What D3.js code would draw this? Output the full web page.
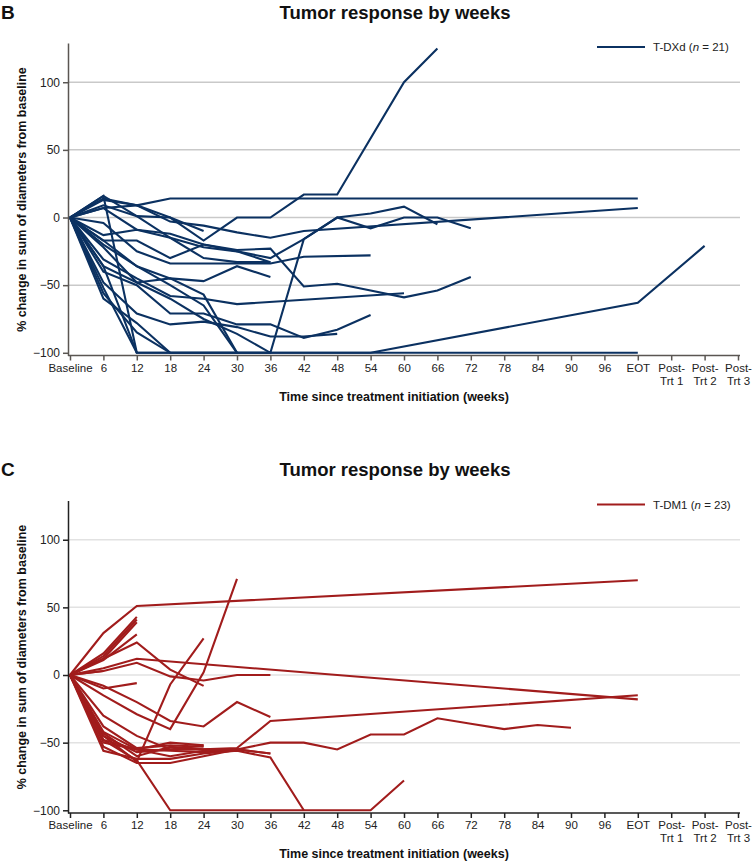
<!DOCTYPE html>
<html><head><meta charset="utf-8">
<script src="https://cdn.jsdelivr.net/npm/d3@7"></script>
<style>body{margin:0;background:#fff} svg{display:block}</style>
</head><body>
<svg id="chart" width="754" height="863"></svg>
<script>
const _ = null;
const categories = ["Baseline","6","12","18","24","30","36","42","48","54","60","66","72","78","84","90","96","EOT","Post-Trt 1","Post-Trt 2","Post-Trt 3"];
const yTicks = [-100, -50, 0, 50, 100];
const gridTicks = [-50, 0, 50, 100];

// T-DXd (n = 21): % change per visit, null = no assessment
const tdxdSeries = [
  [0, 9, 1, 0, -17, 0, 0, 17, 17, _, 100, 125],
  [0, 7, 9, 14, 14, 14, 14, 14, 14, 14, 14, 14, 14, 14, 14, 14, 14, 14],
  [0, 14, 9, -3, -6, -11, -15, -10, _, _, _, _, _, _, _, _, _, 7],
  [0, 16, 1, -15, -22, -25, -30, -16, 0, 3, 8, -5],
  [0, -36, -48, -60, -75, -86, -100, -16, 0, -8, 0, 0, -8],
  [0, -4, -25, -34, -34, -34, -34, -29, _, -28],
  [0, -13, -9, -12, -20, -24, -23, -51, -49, -54, -59, -54, -44],
  [0, -31, -45, -58, -60, -64, _, _, _, _, -56],
  [0, -40, -50, -71, -71, -79, -79, -89, -83, -72],
  [0, -48, -71, -79, -77, -81, -88, -88, -86],
  [0, 16, -100, -100, -100, -100, -100, -100, -100, -100, -100, -100, -100, -100, -100, -100, -100, -100],
  [0, -56, -85, -100, -100, -100, -100, -100, -100, -100, _, _, _, _, _, _, _, -63, _, -21],
  [0, -60, -78, -100],
  [0, -20, -36, -50, -65, -100],
  [0, -17, -36, -45, -47, -36, -44],
  [0, -52, -100],
  [0, -22, -48, -45, -57, -100],
  [0, 13, 9, 0, -10],
  [0, -17, -17, -30, -20, -25, -33],
  [0, 7, -9, -15, -30, -33, -33],
  [0, -36, -100, -100, -100, -100, -100]
];

// T-DM1 (n = 23)
const tdm1Series = [
  [0, 31, 51, _, _, _, _, _, _, _, _, _, _, _, _, _, _, 70],
  [0, -15, -29, -40, 2, 71],
  [0, -45, -64, -7, 27],
  [0, 5, 12, _, _, _, _, _, _, _, _, _, _, _, _, _, _, -18],
  [0, -45, -57, -55, -55, -54, -34, _, _, _, _, _, _, _, _, _, _, -15],
  [0, -53, -65, -65, -60, -55, -50, -50, -55, -44, -44, -32, -36, -40, -37, -39],
  [0, -48, -63, -100, -100, -100, -100, -100, -100, -100, -78],
  [0, -50, -55, -56, -57, -56, -61, -100],
  [0, 3, 9, -1, -4, 0, 0],
  [0, 12, 24, 4, -8],
  [0, 16, 43],
  [0, 14, 41],
  [0, 12, 39],
  [0, 11, 30],
  [0, 3],
  [0, -10, -6],
  [0, -8, -20, -34, -38, -20, -31],
  [0, -48, -55, -50, -52],
  [0, -56, -62, -62, -58, -56],
  [0, -42, -55, -60, -56, -55, -58],
  [0, -38, -54, -52, -53],
  [0, -43, -60, -53, -55, -55, -58],
  [0, -30, -45, -55, -52]
];

const FONT = "'Liberation Sans', Arial, sans-serif";
const svg = d3.select("#chart").style("font-family", FONT);

const x = d3.scalePoint().domain(categories).range([70, 738]);

function panel(opts) {
  const y = d3.scaleLinear().domain([-102, 129]).range([opts.bottom, opts.bottom - 312.5]);
  const g = svg.append("g");

  // panel letter + title
  g.append("text").attr("x", 1).attr("y", opts.bottom - 337).text(opts.letter)
    .attr("font-size", 19).attr("font-weight", "bold").attr("fill", "#111");
  g.append("text").attr("x", 395).attr("y", opts.bottom - 337).attr("text-anchor", "middle")
    .text("Tumor response by weeks").attr("font-size", 18.5).attr("font-weight", "bold").attr("fill", "#111");

  // grid
  g.append("g").selectAll("line").data(gridTicks).join("line")
    .attr("x1", 68).attr("x2", 740).attr("y1", d => y(d)).attr("y2", d => y(d))
    .attr("stroke", opts.grid).attr("stroke-width", 1.5);

  // lines
  const line = d3.line().x(d => x(categories[d.i])).y(d => y(d.v));
  g.append("g").selectAll("path").data(opts.series).join("path")
    .attr("d", s => line(s.map((v, i) => ({i, v})).filter(p => p.v !== null)))
    .attr("fill", "none").attr("stroke", opts.color).attr("stroke-width", 2.1)
    .attr("stroke-miterlimit", 3);

  // y axis
  const ya = g.append("g").attr("transform", "translate(68,0)")
    .call(d3.axisLeft(y).tickValues(yTicks).tickSize(5).tickSizeOuter(0)
      .tickFormat(d => d < 0 ? "\u2212" + Math.abs(d) : d));
  ya.select(".domain").attr("stroke", opts.axis).attr("stroke-width", 1.5);
  ya.selectAll(".tick line").attr("stroke", opts.axis).attr("stroke-width", 1.5);
  ya.selectAll(".tick text").attr("font-size", 12).attr("font-family", FONT).attr("fill", "#222");

  // x axis
  const xa = g.append("g").attr("transform", `translate(0,${opts.bottom})`)
    .call(d3.axisBottom(x).tickSize(5).tickSizeOuter(0));
  xa.select(".domain").attr("d", "M68,0H740").attr("stroke", opts.axis).attr("stroke-width", 1.5);
  xa.selectAll(".tick line").attr("stroke", opts.axis).attr("stroke-width", 1.5);
  xa.selectAll(".tick text").attr("font-size", 11.5).attr("font-family", FONT).attr("fill", "#222")
    .each(function(d) {
      if (d.startsWith("Post-")) {
        const t = d3.select(this).text(null).attr("dy", null);
        t.append("tspan").attr("x", 0).attr("dy", "0.71em").text("Post-");
        t.append("tspan").attr("x", 0).attr("dy", "1.15em").text(d.replace("Post-", ""));
      }
    });

  // axis titles
  g.append("text").attr("x", 394).attr("y", opts.bottom + 45).attr("text-anchor", "middle")
    .text("Time since treatment initiation (weeks)").attr("font-size", 12.5).attr("font-weight", "bold").attr("fill", "#111");
  g.append("text").attr("transform", `translate(26,${opts.bottom - 156}) rotate(-90)`).attr("text-anchor", "middle")
    .text("% change in sum of diameters from baseline").attr("font-size", 12.5).attr("font-weight", "bold").attr("fill", "#111");

  // legend
  const ly = opts.bottom - 308.5;
  g.append("line").attr("x1", 597).attr("x2", 645).attr("y1", ly).attr("y2", ly)
    .attr("stroke", opts.color).attr("stroke-width", 2.2);
  const lt = g.append("text").attr("x", 653).attr("y", ly + 4).attr("font-size", 11.5).attr("fill", "#222");
  lt.append("tspan").text(opts.name + " (");
  lt.append("tspan").attr("font-style", "italic").text("n");
  lt.append("tspan").text(" = " + opts.series.length + ")");
}

panel({letter: "B", bottom: 355.5, series: tdxdSeries, color: "#0b3161", grid: "#c9c9c9", axis: "#5a5652", name: "T-DXd"});
panel({letter: "C", bottom: 813, series: tdm1Series, color: "#a11c1c", grid: "#e2e2e2", axis: "#222", name: "T-DM1"});
</script>
</body></html>
